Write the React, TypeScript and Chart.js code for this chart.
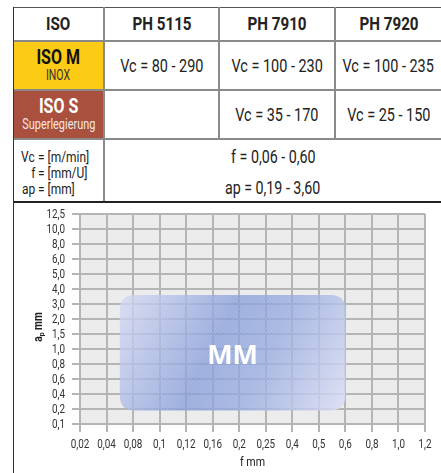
import React, { useEffect, useRef } from 'react';
import { Chart, registerables } from 'chart.js';

Chart.register(...registerables);

// ---------- data ----------
const fTicks = [0.02, 0.04, 0.08, 0.1, 0.12, 0.16, 0.2, 0.25, 0.4, 0.5, 0.6, 0.8, 1.0, 1.2];
const fTickLabels = ['0,02', '0,04', '0,08', '0,1', '0,12', '0,16', '0,2', '0,25', '0,4', '0,5', '0,6', '0,8', '1,0', '1,2'];
const apTicks = [0.1, 0.2, 0.4, 0.6, 0.8, 1.0, 1.5, 2.0, 3.0, 4.0, 5.0, 6.0, 8.0, 10.0, 12.5];
const apTickLabels = ['0,1', '0,2', '0,4', '0,6', '0,8', '1,0', '1,5', '2,0', '3,0', '4,0', '5,0', '6,0', '8,0', '10,0', '12,5'];
const fRange = [0.06, 0.6];
const apRange = [0.19, 3.6];
const regionLabel = 'MM';
const xTitle = 'f mm';
const yTitleMain = 'a';
const yTitleSub = 'p';
const yTitleUnit = ' mm';

const headers = ['ISO', 'PH 5115', 'PH 7910', 'PH 7920'];
const isoM = ['ISO M', 'INOX'];
const isoS = ['ISO S', 'Superlegierung'];
const isoMValues = ['Vc = 80 - 290', 'Vc = 100 - 230', 'Vc = 100 - 235'];
const isoSValues = ['', 'Vc = 35 - 170', 'Vc = 25 - 150'];
const unitNames = ['Vc', 'f', 'ap'];
const unitValues = ['= [m/min]', '= [mm/U]', '= [mm]'];
const rangeTexts = ['f = 0,06 - 0,60', 'ap = 0,19 - 3,60'];

const FONT = 'Roboto, "Noto Sans", sans-serif';
const SX = 0.78;

function toIndex(v: number, ticks: number[]): number {
  for (let i = 0; i < ticks.length - 1; i++) {
    if (v >= ticks[i] && v <= ticks[i + 1]) {
      return i + (v - ticks[i]) / (ticks[i + 1] - ticks[i]);
    }
  }
  return v < ticks[0] ? 0 : ticks.length - 1;
}

const plotBg = {
  id: 'plotBg',
  beforeDraw(chart: any) {
    const { ctx, chartArea: a } = chart;
    ctx.save();
    ctx.fillStyle = '#ececec';
    ctx.fillRect(a.left, a.top, a.right - a.left, a.bottom - a.top);
    ctx.restore();
  },
};

function roundRect(ctx: CanvasRenderingContext2D, x: number, y: number, w: number, h: number, r: number) {
  ctx.beginPath();
  ctx.moveTo(x + r, y);
  ctx.lineTo(x + w - r, y);
  ctx.quadraticCurveTo(x + w, y, x + w, y + r);
  ctx.lineTo(x + w, y + h - r);
  ctx.quadraticCurveTo(x + w, y + h, x + w - r, y + h);
  ctx.lineTo(x + r, y + h);
  ctx.quadraticCurveTo(x, y + h, x, y + h - r);
  ctx.lineTo(x, y + r);
  ctx.quadraticCurveTo(x, y, x + r, y);
  ctx.closePath();
}

const regionPlugin = {
  id: 'region',
  afterDatasetsDraw(chart: any) {
    const { ctx, scales } = chart;
    const xs = scales.x;
    const ys = scales.y;
    const x1 = xs.getPixelForValue(toIndex(fRange[0], fTicks));
    const x2 = xs.getPixelForValue(toIndex(fRange[1], fTicks));
    const y1 = ys.getPixelForValue(toIndex(apRange[1], apTicks));
    const y2 = ys.getPixelForValue(toIndex(apRange[0], apTicks));
    const w = x2 - x1;
    const h = y2 - y1;
    ctx.save();
    roundRect(ctx, x1, y1, w, h, 15);
    const g = ctx.createLinearGradient(x1, y1, x2, y2);
    g.addColorStop(0, 'rgba(212,216,242,0.8)');
    g.addColorStop(0.42, 'rgba(130,154,218,0.76)');
    g.addColorStop(0.62, 'rgba(144,166,222,0.76)');
    g.addColorStop(1, 'rgba(220,222,245,0.85)');
    ctx.fillStyle = g;
    ctx.fill();
    ctx.clip();
    ctx.strokeStyle = 'rgba(255,255,255,0.14)';
    ctx.lineWidth = 1;
    for (let k = -h; k < w + h; k += 3) {
      ctx.beginPath();
      ctx.moveTo(x1 + k, y2);
      ctx.lineTo(x1 + k + h * 0.6, y1);
      ctx.stroke();
    }
    ctx.restore();

    ctx.save();
    ctx.fillStyle = '#ffffff';
    ctx.font = 'bold 27px "Open Sans", sans-serif';
    ctx.textAlign = 'center';
    ctx.textBaseline = 'middle';
    ctx.fillText(regionLabel, (x1 + x2) / 2, (y1 + y2) / 2 + 4);
    ctx.restore();
  },
};

const labelsPlugin = {
  id: 'labels',
  afterDraw(chart: any) {
    const { ctx, chartArea: a, scales } = chart;
    const xs = scales.x;
    const ys = scales.y;
    ctx.save();
    ctx.fillStyle = '#333';
    ctx.font = `13px ${FONT}`;
    fTickLabels.forEach((t, i) => {
      ctx.save();
      ctx.translate(xs.getPixelForValue(i), a.bottom + 21);
      ctx.scale(0.76, 1);
      ctx.textAlign = 'center';
      ctx.textBaseline = 'middle';
      ctx.fillText(t, 0, 0);
      ctx.restore();
    });
    apTickLabels.forEach((t, i) => {
      ctx.save();
      ctx.translate(a.left - 15, ys.getPixelForValue(i) + 0.5);
      ctx.scale(0.76, 1);
      ctx.textAlign = 'right';
      ctx.textBaseline = 'middle';
      ctx.fillText(t, 0, 0);
      ctx.restore();
    });
    ctx.restore();

    // x title
    ctx.save();
    ctx.fillStyle = '#222';
    ctx.font = `13px ${FONT}`;
    ctx.translate((a.left + a.right) / 2, a.bottom + 39);
    ctx.scale(0.82, 1);
    ctx.textAlign = 'center';
    ctx.textBaseline = 'middle';
    ctx.fillText(xTitle, 0, 0);
    ctx.restore();

    // y title (rotated, subscript p)
    ctx.save();
    ctx.translate(a.left - 41, (a.top + a.bottom) / 2 + 8);
    ctx.rotate(-Math.PI / 2);
    ctx.scale(0.85, 1);
    ctx.fillStyle = '#222';
    ctx.textBaseline = 'middle';
    ctx.textAlign = 'left';
    const mainFont = `bold 12px ${FONT}`;
    const subFont = `bold 8px ${FONT}`;
    ctx.font = mainFont;
    const wa = ctx.measureText(yTitleMain).width;
    const wu = ctx.measureText(yTitleUnit).width;
    ctx.font = subFont;
    const wp = ctx.measureText(yTitleSub).width;
    let x = -(wa + wp + wu) / 2;
    ctx.font = mainFont;
    ctx.fillText(yTitleMain, x, 0);
    x += wa;
    ctx.font = subFont;
    ctx.fillText(yTitleSub, x, 3);
    x += wp;
    ctx.font = mainFont;
    ctx.fillText(yTitleUnit, x, 0);
    ctx.restore();
  },
};

function ChartBlock() {
  const ref = useRef<HTMLCanvasElement | null>(null);
  useEffect(() => {
    if (!ref.current) return;
    const chart = new Chart(ref.current, {
      type: 'scatter',
      data: { datasets: [{ data: [] }] },
      options: {
        animation: false,
        responsive: false,
        devicePixelRatio: 1,
        layout: { padding: { top: 9, right: 16, left: 0, bottom: 0 } },
        plugins: { legend: { display: false }, tooltip: { enabled: false } },
        scales: {
          x: {
            type: 'linear',
            min: 0,
            max: fTicks.length - 1,
            afterFit: (s: any) => { s.height = 49; },
            afterBuildTicks: (s: any) => { s.ticks = fTicks.map((_, i) => ({ value: i })); },
            ticks: { display: false, autoSkip: false },
            grid: { color: '#b5b5b5', lineWidth: 2, tickLength: 8 },
            border: { display: false },
          },
          y: {
            type: 'linear',
            min: 0,
            max: apTicks.length - 1,
            afterFit: (s: any) => { s.width = 66; },
            afterBuildTicks: (s: any) => { s.ticks = apTicks.map((_, i) => ({ value: i })); },
            ticks: { display: false, autoSkip: false },
            grid: { color: '#b5b5b5', lineWidth: 2, tickLength: 8 },
            border: { display: false },
          },
        },
      },
      plugins: [plotBg, regionPlugin, labelsPlugin],
    } as any);
    return () => chart.destroy();
  }, []);
  return (
    <canvas
      ref={ref}
      width={427}
      height={268}
      style={{ position: 'absolute', left: 14, top: 205, width: 427, height: 268 }}
    />
  );
}

const colX = [13, 104, 219, 335, 442];
const rowY = [7, 41, 90, 139, 202];

function N(props: { children?: any; s?: number; origin?: string; style?: any }) {
  return (
    <span
      style={{
        display: 'inline-block',
        whiteSpace: 'nowrap',
        transform: `scaleX(${props.s ?? SX})`,
        transformOrigin: props.origin ?? 'center',
        ...(props.style || {}),
      }}
    >
      {props.children}
    </span>
  );
}

function Cell(props: { x1: number; x2: number; y1: number; y2: number; bg?: string; children?: any }) {
  const { x1, x2, y1, y2, bg, children } = props;
  return (
    <div
      style={{
        position: 'absolute',
        left: x1,
        top: y1,
        width: x2 - x1,
        height: y2 - y1,
        background: bg || 'transparent',
        display: 'flex',
        flexDirection: 'column',
        alignItems: 'center',
        justifyContent: 'center',
        textAlign: 'center',
      }}
    >
      {children}
    </div>
  );
}

function Line(props: { x: number; y: number; w: number; h: number; c: string }) {
  const { x, y, w, h, c } = props;
  return <div style={{ position: 'absolute', left: x, top: y, width: w, height: h, background: c }} />;
}

export default function App() {
  const inner = '#8a8a8a';
  return (
    <div
      style={{
        position: 'absolute',
        left: 0,
        top: 0,
        width: 441,
        height: 473,
        overflow: 'hidden',
        background: '#fff',
        fontFamily: FONT,
        color: '#222',
      }}
    >
      {headers.map((h, i) => (
        <Cell key={h} x1={colX[i]} x2={colX[i + 1]} y1={rowY[0]} y2={rowY[1]}>
          <N s={0.8} style={{ fontWeight: 'bold', fontSize: 19, lineHeight: '22px' }}>{h}</N>
        </Cell>
      ))}
      <Cell x1={colX[0]} x2={colX[1]} y1={rowY[1]} y2={rowY[2]} bg="#fccb16">
        <N s={0.8} style={{ fontWeight: 'bold', fontSize: 20, lineHeight: '20px', color: '#111' }}>{isoM[0]}</N>
        <N s={0.75} style={{ fontSize: 14, lineHeight: '17px', color: '#333' }}>{isoM[1]}</N>
      </Cell>
      {isoMValues.map((v, i) => (
        <Cell key={'m' + i} x1={colX[i + 1]} x2={colX[i + 2]} y1={rowY[1]} y2={rowY[2]}>
          <N s={0.76} style={{ fontSize: 19, lineHeight: '22px' }}>{v}</N>
        </Cell>
      ))}
      <Cell x1={colX[0]} x2={colX[1]} y1={rowY[2]} y2={rowY[3]} bg="#a9503e">
        <N s={0.8} style={{ fontWeight: 'bold', fontSize: 20, lineHeight: '20px', color: '#fff' }}>{isoS[0]}</N>
        <N s={0.78} style={{ fontSize: 14, lineHeight: '17px', color: '#f3e6e2' }}>{isoS[1]}</N>
      </Cell>
      {isoSValues.map((v, i) => (
        <Cell key={'s' + i} x1={colX[i + 1]} x2={colX[i + 2]} y1={rowY[2]} y2={rowY[3]}>
          <N s={0.76} style={{ fontSize: 19, lineHeight: '22px' }}>{v}</N>
        </Cell>
      ))}
      {unitNames.map((n, i) => (
        <div key={n} style={{ position: 'absolute', left: 0, top: 149 + i * 16, width: 200, height: 16, fontSize: 15.5, lineHeight: '16px' }}>
          <div style={{ position: 'absolute', right: 200 - 35, top: 0, textAlign: 'right' }}>
            <N s={0.77} origin="right">{n}</N>
          </div>
          <div style={{ position: 'absolute', left: 38, top: 0 }}>
            <N s={0.77} origin="left">{unitValues[i]}</N>
          </div>
        </div>
      ))}
      {rangeTexts.map((t, i) => (
        <div key={t} style={{ position: 'absolute', left: colX[1], width: colX[4] - colX[1], top: 145 + i * 31, height: 24, textAlign: 'center', fontSize: 19, lineHeight: '24px' }}>
          <N s={0.75}>{t}</N>
        </div>
      ))}

      <Line x={13} y={7} w={430} h={1} c="#555" />
      <Line x={13} y={40} w={430} h={2} c={inner} />
      <Line x={13} y={89} w={430} h={2} c={inner} />
      <Line x={13} y={138} w={430} h={2} c={inner} />
      <Line x={103} y={7} w={2} h={195} c={inner} />
      <Line x={218} y={7} w={2} h={132} c={inner} />
      <Line x={334} y={7} w={2} h={132} c={inner} />
      <Line x={13} y={201} w={430} h={2} c="#222" />
      <Line x={13} y={7} w={1} h={470} c="#333" />

      <ChartBlock />
    </div>
  );
}
